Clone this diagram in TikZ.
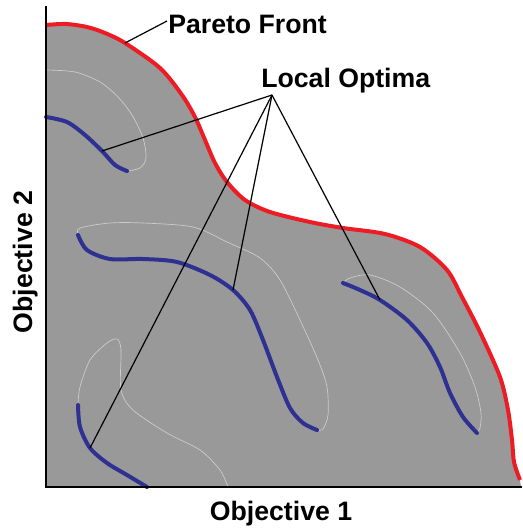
\documentclass[tikz,border=0pt]{standalone}
\usepackage{fontspec}
\setmainfont{Liberation Sans}
\definecolor{paretored}{RGB}{237,28,36}
\definecolor{optblue}{RGB}{46,49,146}
\definecolor{regiongray}{RGB}{153,153,153}
\definecolor{faintline}{RGB}{205,205,205}
\tikzset{
  lbl/.style={inner sep=0pt, font=\bfseries\fontsize{20}{24}\selectfont},
  frontline/.style={draw=paretored, line width=3pt},
  optline/.style={draw=optblue, line width=3pt, line cap=round},
  basin/.style={draw=faintline, line width=0.5pt},
  leader/.style={draw=black, line width=0.9pt},
  axisline/.style={draw=black, line width=1.6pt}
}
\begin{document}
\begin{tikzpicture}[x=0.75pt,y=-0.75pt]
\useasboundingbox (0,0) rectangle (522,529);
% feasible region
\fill[regiongray] (46,487) -- (46,25) -- plot[smooth] coordinates {(46,25) (66,24) (87,27) (105,33) (125,43) (160,68) (182,95) (195,117) (205,140) (215,163) (227,182) (245,200) (270,212) (310,222) (343,228) (385,234) (420,247) (447,270) (462,297) (480,332) (500,377) (508,410) (512,440) (514,462) (520,480)} -- (521,487) -- cycle;
% basin outlines
\draw[basin] plot[smooth] coordinates {(46,70) (75,72) (100,82) (118,97) (132,115) (143,138) (146,158) (140,168) (127,171)};
\draw[basin] plot[smooth] coordinates {(78,235) (80,228) (110,223) (143,223) (193,227) (227,242) (260,258) (280,280) (300,320) (318,360) (327,387) (328,415) (323,429) (317,430)};
\draw[basin] plot[smooth] coordinates {(78,405) (80,387) (90,360) (107,343) (117,339) (121,350) (121,390) (133,410) (167,433) (200,450) (220,470) (228,487)};
\draw[basin] plot[smooth] coordinates {(343,283) (350,278) (370,275) (400,287) (433,313) (460,353) (475,387) (481,413) (480,428) (477,433)};
% local optima
\draw[optline] plot[smooth] coordinates {(46,117) (67,122) (85,135) (102,151) (115,165) (127,171)};
\draw[optline] plot[smooth] coordinates {(78,235) (87,250) (110,259) (143,259) (177,262) (210,275) (233,290) (250,310) (263,340) (277,377) (290,408) (303,423) (317,430)};
\draw[optline] plot[smooth] coordinates {(78,405) (80,427) (90,448) (107,463) (127,475) (147,487)};
\draw[optline] plot[smooth] coordinates {(343,283) (360,290) (380,300) (407,320) (427,343) (440,367) (450,393) (463,417) (477,433)};
% pareto front
\draw[frontline] plot[smooth] coordinates {(46,25) (66,24) (87,27) (105,33) (125,43) (160,68) (182,95) (195,117) (205,140) (215,163) (227,182) (245,200) (270,212) (310,222) (343,228) (385,234) (420,247) (447,270) (462,297) (480,332) (500,377) (508,410) (512,440) (514,462) (520,480)};
% axes
\coordinate (ytop) at (46,6);
\coordinate (origin) at (46,487);
\coordinate (xend) at (522,487);
\draw[axisline] (ytop) -- (origin) -- (xend);
% labels
\node[lbl, anchor=base west] (pf) at (168,33) {Pareto Front};
\node[lbl, anchor=base west] (lo) at (261,87) {Local Optima};
\node[lbl, anchor=base] (ox) at (281,520) {Objective 1};
\node[lbl, anchor=base, rotate=90] (oy) at (32,262) {Objective 2};
% leader lines
\coordinate (pfstart) at (167,21);
\coordinate (pfpt) at (125,43);
\coordinate (hub) at (272,95);
\coordinate (o1) at (102,151);
\coordinate (o2) at (233,290);
\coordinate (o3) at (90,448);
\coordinate (o4) at (380,300);
\draw[leader] (pfstart) -- (pfpt);
\draw[leader] (hub) -- (o1);
\draw[leader] (hub) -- (o2);
\draw[leader] (hub) -- (o3);
\draw[leader] (hub) -- (o4);
\end{tikzpicture}
\end{document}
